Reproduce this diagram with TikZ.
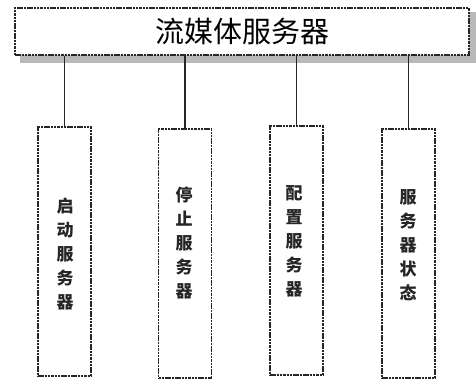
\documentclass[tikz,border=0pt]{standalone}
\usepackage{fontspec}
\newfontfamily\cjk{Noto Sans CJK SC}
\begin{document}
\begin{tikzpicture}[x=1pt,y=-1pt,
  frame/.style={draw=black!85, line width=1.3pt, densely dashed, dash pattern=on 2.5pt off 0.8pt, fill=white, inner sep=0pt},
  vbox/.style={frame, minimum width=53pt, minimum height=249pt},
  vtext/.style={font=\cjk\bfseries\fontsize{17}{24}\selectfont, align=center, inner sep=0pt, text=black!85},
  link/.style={draw=black!85, line width=1.1pt}]
\useasboundingbox (0,0) rectangle (476,380);
% shadow
\fill[gray!55] (20,55) rectangle (476,63);
\fill[gray!55] (469,12) rectangle (476,63);
\node[frame, minimum width=454pt, minimum height=47pt, font=\cjk\fontsize{29}{29}\selectfont] (top) at (242,31.5) {流媒体服务器};
\node[vbox] (b1) at (64.5,251.5) {};
\node[vbox] (b2) at (185,253.5) {};
\node[vbox] (b3) at (296.5,250.5) {};
\node[vbox] (b4) at (408.5,253.5) {};
\node[vtext] (t1) at (65,254) {启\\动\\服\\务\\器};
\node[vtext] (t2) at (184,243) {停\\止\\服\\务\\器};
\node[vtext] (t3) at (294,241) {配\\置\\服\\务\\器};
\node[vtext] (t4) at (408,245) {服\\务\\器\\状\\态};
\foreach \b in {b1,b2,b3,b4} \draw[link] (top.south -| \b.north) -- (\b.north);
\end{tikzpicture}
\end{document}
